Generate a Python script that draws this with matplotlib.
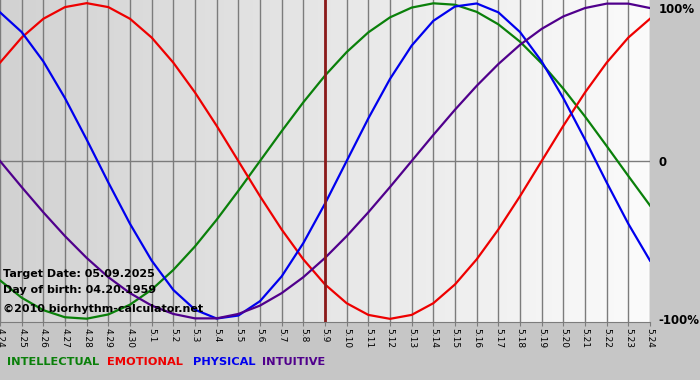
import numpy as np
import matplotlib
matplotlib.use('Agg')
import matplotlib.pyplot as plt
from matplotlib.colors import LinearSegmentedColormap

#  Dates shown along the bottom axis (one per day)
dates = ['4.24', '4.25', '4.26', '4.27', '4.28', '4.29', '4.30',
         '5.1', '5.2', '5.3', '5.4', '5.5', '5.6', '5.7', '5.8', '5.9',
         '5.10', '5.11', '5.12', '5.13', '5.14', '5.15', '5.16', '5.17',
         '5.18', '5.19', '5.20', '5.21', '5.22', '5.23', '5.24']
target_date = '5.9'

#  Daily values of the four cycles
physical = [0.942, 0.817, 0.631, 0.398, 0.136, -0.136, -0.398, -0.631,
            -0.817, -0.942, -0.998, -0.979, -0.888, -0.731, -0.520, -0.270,
            0.0, 0.270, 0.520, 0.731, 0.888, 0.979, 0.998, 0.942,
            0.817, 0.631, 0.398, 0.136, -0.136, -0.398, -0.631]
emotional = [0.623, 0.782, 0.901, 0.975, 1.0, 0.975, 0.901, 0.782,
             0.623, 0.434, 0.223, 0.0, -0.223, -0.434, -0.623, -0.782,
             -0.901, -0.975, -1.0, -0.975, -0.901, -0.782, -0.623, -0.434,
             -0.223, 0.0, 0.223, 0.434, 0.623, 0.782, 0.901]
intellectual = [-0.756, -0.866, -0.945, -0.990, -0.999, -0.972, -0.910, -0.815,
                -0.690, -0.541, -0.372, -0.189, 0.0, 0.189, 0.372, 0.541,
                0.690, 0.815, 0.910, 0.972, 0.999, 0.990, 0.945, 0.866,
                0.756, 0.618, 0.458, 0.282, 0.095, -0.095, -0.282]
intuitive = [0.0, -0.165, -0.325, -0.476, -0.614, -0.736, -0.837, -0.916,
             -0.969, -0.997, -0.997, -0.969, -0.916, -0.837, -0.736, -0.614,
             -0.476, -0.325, -0.165, 0.0, 0.165, 0.325, 0.476, 0.614,
             0.736, 0.837, 0.916, 0.969, 0.997, 0.997, 0.969]

days = np.arange(len(dates))

fig = plt.figure(figsize=(7.0, 3.8), dpi=100, facecolor='#c6c6c6')
ax = fig.add_axes([0.0, 58/380, 650/700, 322/380])

#  Grey to white background across the plot area
cmap = LinearSegmentedColormap.from_list('bg', ['#d2d2d2', '#fbfbfb'])
ax.imshow(np.linspace(0, 1, 200)[None, :], cmap=cmap, aspect='auto',
          extent=[days[0], days[-1], -1.02, 1.02], zorder=0)

for d in days:
    ax.axvline(d, color='#7c7c7c', lw=1.0, zorder=1)
ax.axhline(0, color='#7c7c7c', lw=1.0, zorder=1)

ax.plot(days, intellectual, color='#0a800a', lw=1.6, zorder=3)
ax.plot(days, emotional, color='#ee0000', lw=1.6, zorder=3)
ax.plot(days, physical, color='#0000ee', lw=1.6, zorder=3)
ax.plot(days, intuitive, color='#50008c', lw=1.6, zorder=3)

ax.axvline(dates.index(target_date), color='#8b1a1a', lw=2.0, zorder=4)

ax.set_xlim(days[0], days[-1])
ax.set_ylim(-1.02, 1.02)
ax.set_facecolor('#d8d8d8')
for s in ['top', 'left', 'right']:
    ax.spines[s].set_visible(False)
ax.spines['bottom'].set_color('#7c7c7c')

ax.set_xticks(days)
ax.set_xticklabels(dates, rotation=270, fontsize=6.5)
ax.tick_params(axis='x', length=3, color='#7c7c7c', pad=1)

ax.yaxis.tick_right()
ax.set_yticks([-1, 0, 1])
ax.set_yticklabels(['-100%', '0', '100%'], fontsize=8.5, fontweight='bold')
ax.tick_params(axis='y', length=0, pad=6)
ax.get_yticklabels()[2].set_va('top')

#  Info text in the lower left of the plot (baselines in data units)
info = ['Target Date: 05.09.2025', 'Day of birth: 04.20.1959',
        '\u00a92010 biorhythm-calculator.net']
info_y = [-0.735, -0.836, -0.955]
for line, yp in zip(info, info_y):
    ax.text(0.12, yp, line, fontsize=8, fontweight='bold', color='black',
            va='baseline', zorder=5)

legend_names = ['INTELLECTUAL', 'EMOTIONAL', 'PHYSICAL', 'INTUITIVE']
legend_colors = ['#0a800a', '#ee0000', '#0000ee', '#50008c']
legend_x = [7, 107, 193, 262]
for name, col, xp in zip(legend_names, legend_colors, legend_x):
    fig.text(xp / 700, 1 - 362 / 380, name, color=col, fontsize=8.2,
             fontweight='bold', va='center')

fig.savefig('out.png', dpi=100, facecolor=fig.get_facecolor())
